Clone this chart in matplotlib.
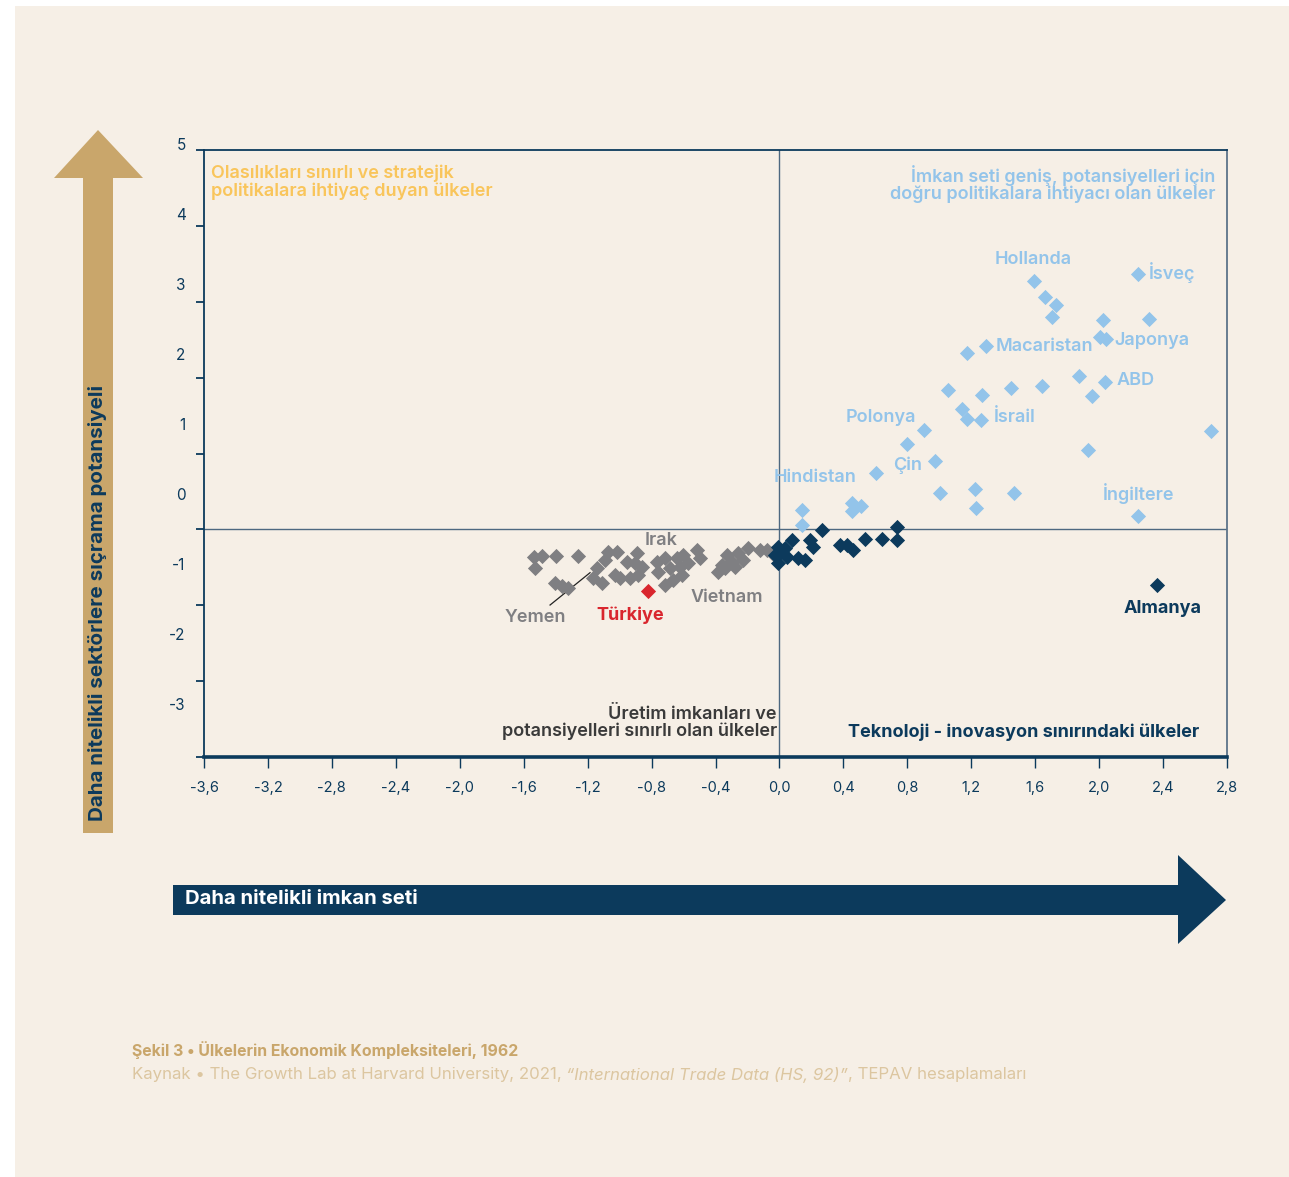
import matplotlib
matplotlib.use("Agg")
import matplotlib.pyplot as plt
from matplotlib.patches import Polygon, Rectangle
import numpy as np

plt.rcParams['font.family'] = ['Inter', 'DejaVu Sans']

# --- colours
BG = "#f6efe6"
NAVY = "#0c3a5c"
LIGHT = "#93c4ea"
GRAY = "#7f7f82"
RED = "#d9262e"
TAN = "#c9a66b"
ORANGE = "#f9c55b"

# --- data
light_x = [1.593, 1.662, 1.730, 1.705, 2.241, 2.022, 2.310, 2.006, 2.043, 1.175,
           1.290, 1.876, 2.037, 1.957, 1.055, 1.267, 1.447, 1.641, 1.144, 1.175,
           1.261, 0.906, 0.798, 0.975, 0.604, 2.702, 1.929, 1.005, 1.222, 1.230,
           1.466, 2.245, 0.139, 0.139, 0.452, 0.508, 0.452]
light_y = [3.273, 3.059, 2.953, 2.803, 3.362, 2.755, 2.777, 2.539, 2.505, 2.321,
           2.417, 2.017, 1.942, 1.754, 1.833, 1.771, 1.867, 1.890, 1.583, 1.455,
           1.441, 1.310, 1.125, 0.905, 0.739, 1.293, 1.046, 0.483, 0.528, 0.278,
           0.483, 0.180, 0.255, 0.058, 0.344, 0.308, 0.246]

navy_x = [0.265, 0.077, 0.191, 0.212, -0.007, 0.035, -0.028, 0.045, 0.118, 0.160,
          -0.007, 0.379, 0.421, 0.462, 0.535, 0.640, 0.734, 0.734, 0.010, 2.362]
navy_y = [-0.008, -0.140, -0.140, -0.228, -0.228, -0.249, -0.338, -0.360, -0.381, -0.404,
          -0.447, -0.206, -0.206, -0.272, -0.127, -0.127, 0.035, -0.140, -0.300, -0.733]

gray_x = [-1.535, -1.487, -1.398, -1.258, -1.529, -1.404, -1.362, -1.321, -1.143, -1.071,
          -1.018, -1.091, -1.164, -1.112, -1.029, -0.997, -0.955, -0.893, -0.904, -0.935,
          -0.883, -0.862, -0.768, -0.716, -0.643, -0.601, -0.518, -0.497, -0.758, -0.685,
          -0.622, -0.570, -0.716, -0.664, -0.611, -0.330, -0.257, -0.195, -0.122, -0.080,
          -0.361, -0.299, -0.226, -0.382, -0.340, -0.278, -0.046]
gray_y = [-0.360, -0.347, -0.351, -0.351, -0.513, -0.711, -0.742, -0.777, -0.513, -0.294,
          -0.294, -0.404, -0.645, -0.711, -0.601, -0.645, -0.426, -0.315, -0.447, -0.645,
          -0.601, -0.492, -0.426, -0.381, -0.381, -0.338, -0.272, -0.381, -0.558, -0.513,
          -0.492, -0.447, -0.733, -0.667, -0.601, -0.338, -0.315, -0.249, -0.272, -0.272,
          -0.470, -0.426, -0.404, -0.558, -0.513, -0.492, -0.310]

turkiye_x = [-0.824]
turkiye_y = [-0.812]

x_ticks = [-3.6, -3.2, -2.8, -2.4, -2.0, -1.6, -1.2, -0.8, -0.4, 0.0, 0.4, 0.8, 1.2, 1.6, 2.0, 2.4, 2.8]
y_ticks = [5, 4, 3, 2, 1, 0, -1, -2, -3]

# country labels: name, x, y, ha, colour, weight
labels = [
    ("Hollanda", 1.587, 3.563, "center", LIGHT, "semibold"),
    ("İsveç", 2.310, 3.392, "left", LIGHT, "semibold"),
    ("Macaristan", 1.355, 2.404, "left", LIGHT, "semibold"),
    ("Japonya", 2.093, 2.483, "left", LIGHT, "semibold"),
    ("ABD", 2.106, 1.956, "left", LIGHT, "semibold"),
    ("Polonya", 0.417, 1.468, "left", LIGHT, "semibold"),
    ("İsrail", 1.343, 1.468, "left", LIGHT, "semibold"),
    ("Çin", 0.711, 0.848, "left", LIGHT, "semibold"),
    ("Hindistan", -0.034, 0.690, "left", LIGHT, "semibold"),
    ("İngiltere", 2.024, 0.479, "left", LIGHT, "semibold"),
    ("Almanya", 2.156, -1.049, "left", NAVY, "bold"),
    ("Irak", -0.841, -0.153, "left", GRAY, "semibold"),
    ("Vietnam", -0.559, -0.904, "left", GRAY, "semibold"),
    ("Türkiye", -1.148, -1.129, "left", RED, "bold"),
    ("Yemen", -1.717, -1.155, "left", GRAY, "semibold"),
]

W, H = 1289, 1177
fig = plt.figure(figsize=(W / 100, H / 100), dpi=100, facecolor="white")

# background layer in pixel coordinates
bg = fig.add_axes([0, 0, 1, 1], zorder=0)
bg.set_xlim(0, W)
bg.set_ylim(H, 0)
bg.axis("off")
bg.add_patch(Rectangle((15, 6), W - 15, H - 6, facecolor=BG, edgecolor="none"))

# vertical arrow
bg.add_patch(Polygon([(83, 833), (113, 833), (113, 178), (143, 178), (98, 130),
                      (54, 178), (83, 178)], closed=True, facecolor=TAN, edgecolor="none"))
bg.text(98, 821, "Daha nitelikli sektörlere sıçrama potansiyeli", rotation=90,
        ha="center", va="bottom", color=NAVY, fontsize=14.8, fontweight="bold")

# horizontal arrow
bg.add_patch(Polygon([(173, 885), (1178, 885), (1178, 855), (1226, 900), (1178, 944),
                      (1178, 915), (173, 915)], closed=True, facecolor=NAVY, edgecolor="none"))
bg.text(185, 899, "Daha nitelikli imkan seti", ha="left", va="center",
        color="white", fontsize=14.6, fontweight="bold")

# caption
bg.text(132, 1050, "Şekil 3 • Ülkelerin Ekonomik Kompleksiteleri, 1962", ha="left",
        va="center", color=TAN, fontsize=11.4, fontweight="bold")
CAP2 = "#dcc6a0"
t1 = bg.text(132, 1075, "Kaynak • The Growth Lab at Harvard University, 2021, ", ha="left",
             va="center", color=CAP2, fontsize=12.1)
t2 = bg.annotate("“International Trade Data (HS, 92)”", xy=(1, 0.5), xycoords=t1,
                 ha="left", va="center", color=CAP2, fontsize=12.1, style="italic")
bg.annotate(", TEPAV hesaplamaları", xy=(1, 0.5), xycoords=t2,
            ha="left", va="center", color=CAP2, fontsize=12.1)

# main chart
ax = fig.add_axes([204 / W, 1 - 757 / H, (1227 - 204) / W, (757 - 150) / H], zorder=1)
ax.set_facecolor("none")
ax.set_xlim(-3.6, 2.8)
ax.set_ylim(-3, 5)

ax.axhline(0, color="#4d6880", lw=1.0, zorder=1)
ax.axvline(0, color="#4d6880", lw=1.0, zorder=1)

ms = 60
ax.scatter(gray_x, gray_y, marker="D", s=ms, color=GRAY, linewidths=0, zorder=3)
ax.scatter(navy_x, navy_y, marker="D", s=ms, color=NAVY, linewidths=0, zorder=3)
ax.scatter(light_x, light_y, marker="D", s=ms, color=LIGHT, linewidths=0, zorder=3)
ax.scatter(turkiye_x, turkiye_y, marker="D", s=ms, color=RED, linewidths=0, zorder=4)

for name, lx, ly, ha, col, wt in labels:
    ax.text(lx, ly, name, ha=ha, va="center", color=col, fontsize=13, fontweight=wt, zorder=5)

# leader line for Yemen
ax.plot([-1.435, -1.185], [-0.997, -0.571], color="#222222", lw=0.9, zorder=2)

# quadrant notes
ax.text(0.007, 0.976, "Olasılıkları sınırlı ve stratejik\npolitikalara ihtiyaç duyan ülkeler",
        transform=ax.transAxes, ha="left", va="top", color=ORANGE, fontsize=13,
        fontweight="semibold", linespacing=1.0)
ax.text(0.989, 0.976, "İmkan seti geniş, potansiyelleri için\ndoğru politikalara ihtiyacı olan ülkeler",
        transform=ax.transAxes, ha="right", va="top", color=LIGHT, fontsize=13,
        fontweight="semibold", linespacing=1.0, multialignment="right")
ax.text(-0.016, -2.55, "Üretim imkanları ve\npotansiyelleri sınırlı olan ülkeler",
        ha="right", va="center", color="#3a3a3a", fontsize=13, fontweight="semibold",
        linespacing=1.0, multialignment="right")
ax.text(0.9726, 0.04, "Teknoloji - inovasyon sınırındaki ülkeler", transform=ax.transAxes,
        ha="right", va="center", color=NAVY, fontsize=13, fontweight="bold")

# spines
for side in ["left", "top"]:
    ax.spines[side].set_color(NAVY)
    ax.spines[side].set_linewidth(1.3)
ax.spines["right"].set_color("#5d7489")
ax.spines["right"].set_linewidth(1.3)
ax.spines["bottom"].set_color(NAVY)
ax.spines["bottom"].set_linewidth(2.6)

ax.set_xticks(x_ticks)
ax.set_xticklabels([("%.1f" % v).replace(".", ",").replace("-0,0", "0,0") for v in x_ticks])
ax.tick_params(axis="x", direction="out", length=8, width=1, color=NAVY,
               labelcolor=NAVY, labelsize=10.5, pad=9)
ax.set_yticks(y_ticks)
ax.set_yticklabels([])
ax.tick_params(axis="y", direction="out", length=6, width=1.3, color=NAVY)

# y labels sit where the reference draws them (slightly off the ticks)
for v in y_ticks:
    ypos = 5 - (146 + 70 * (5 - v) - 150) / 75.875
    ax.text(-0.018, ypos, str(v), transform=ax.get_yaxis_transform(), ha="right",
            va="center", color=NAVY, fontsize=11)

fig.savefig("out.png", dpi=100, facecolor=fig.get_facecolor())
